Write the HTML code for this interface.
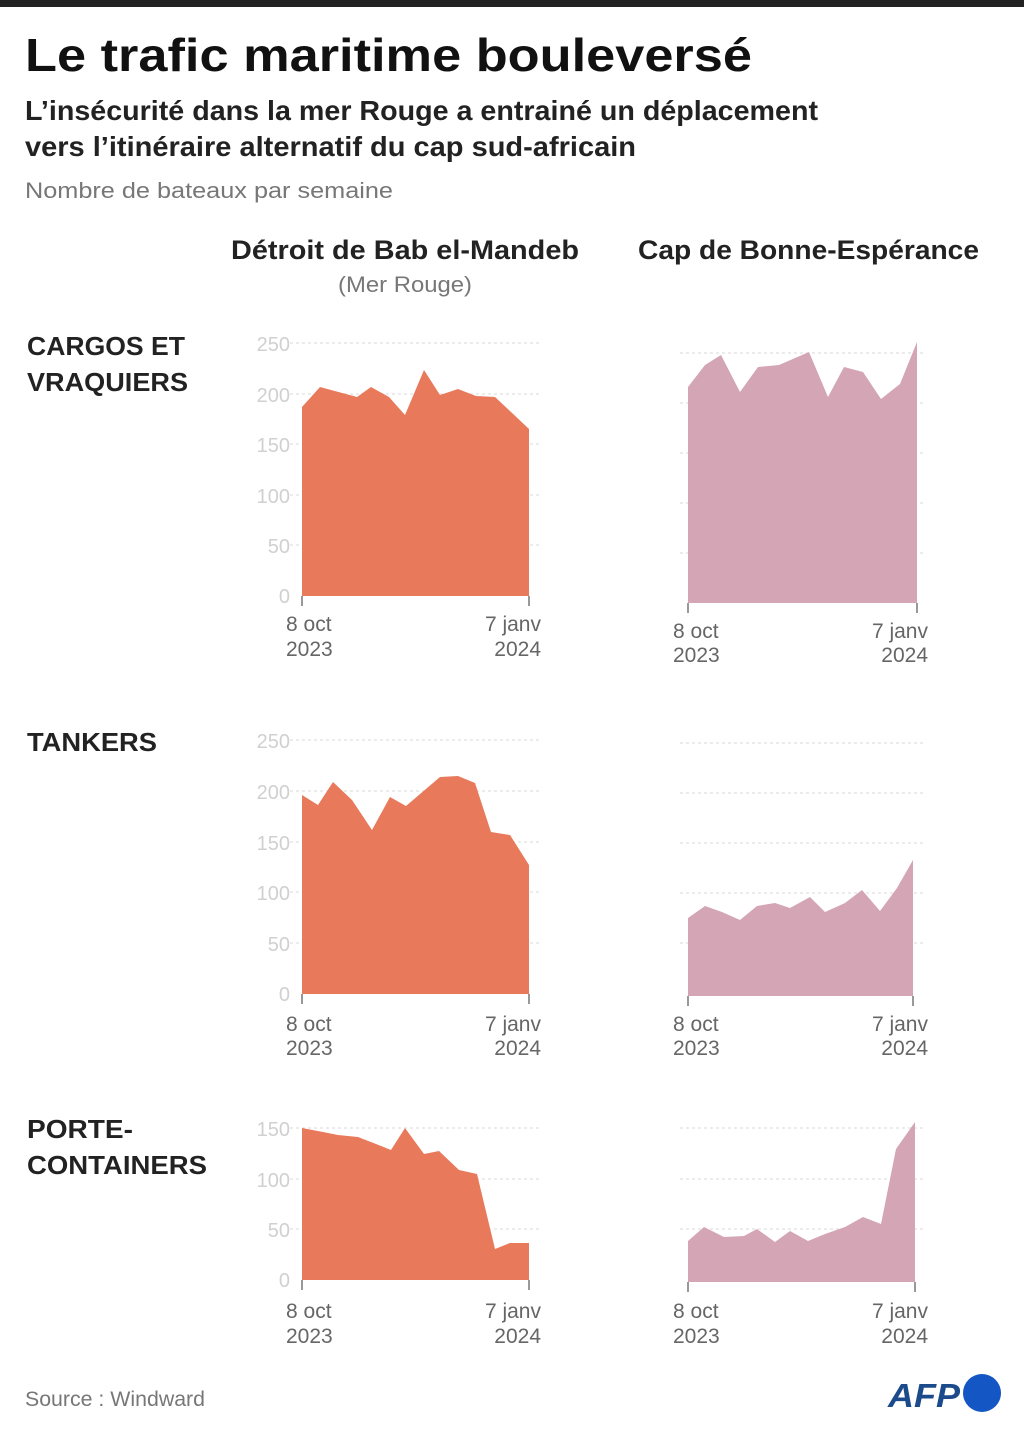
<!DOCTYPE html>
<html><head><meta charset="utf-8"><style>
html,body{margin:0;padding:0;background:#fff;}
svg{display:block;}
text{font-family:"Liberation Sans Narrow","Liberation Sans",sans-serif;}
</style></head><body>
<svg width="1024" height="1432" viewBox="0 0 1024 1432" xmlns="http://www.w3.org/2000/svg">
<rect x="0" y="0" width="1024" height="7" fill="#222"/>
<text x="25" y="71" font-size="46" font-weight="bold" fill="#111" textLength="727" lengthAdjust="spacingAndGlyphs">Le trafic maritime bouleversé</text>
<text x="25" y="120" font-size="28" font-weight="bold" fill="#222" textLength="793" lengthAdjust="spacingAndGlyphs">L’insécurité dans la mer Rouge a entrainé un déplacement</text>
<text x="25" y="156" font-size="28" font-weight="bold" fill="#222" textLength="611" lengthAdjust="spacingAndGlyphs">vers l’itinéraire alternatif du cap sud-africain</text>
<text x="25" y="198" font-size="22" fill="#777" textLength="368" lengthAdjust="spacingAndGlyphs">Nombre de bateaux par semaine</text>
<text x="231" y="259" font-size="27" font-weight="bold" fill="#222" textLength="348" lengthAdjust="spacingAndGlyphs">Détroit de Bab el-Mandeb</text>
<text x="338" y="292" font-size="22" fill="#777" textLength="134" lengthAdjust="spacingAndGlyphs">(Mer Rouge)</text>
<text x="638" y="259" font-size="27" font-weight="bold" fill="#222" textLength="341" lengthAdjust="spacingAndGlyphs">Cap de Bonne-Espérance</text>

<g font-size="26" font-weight="bold" fill="#222">
<text x="27" y="355" textLength="158" lengthAdjust="spacingAndGlyphs">CARGOS ET</text>
<text x="27" y="391" textLength="161" lengthAdjust="spacingAndGlyphs">VRAQUIERS</text>
<text x="27" y="751" textLength="130" lengthAdjust="spacingAndGlyphs">TANKERS</text>
<text x="27" y="1138" textLength="106" lengthAdjust="spacingAndGlyphs">PORTE-</text>
<text x="27" y="1174" textLength="180" lengthAdjust="spacingAndGlyphs">CONTAINERS</text>
</g>

<g stroke="#e6e6e6" stroke-width="1.5" stroke-dasharray="3 3">
<line x1="290" x2="540" y1="343" y2="343"/><line x1="290" x2="540" y1="394" y2="394"/><line x1="290" x2="540" y1="444" y2="444"/><line x1="290" x2="540" y1="495" y2="495"/><line x1="290" x2="540" y1="545" y2="545"/>
<line x1="680" x2="925" y1="353" y2="353"/><line x1="680" x2="925" y1="403" y2="403"/><line x1="680" x2="925" y1="453" y2="453"/><line x1="680" x2="925" y1="503" y2="503"/><line x1="680" x2="925" y1="553" y2="553"/>
<line x1="290" x2="540" y1="740" y2="740"/><line x1="290" x2="540" y1="791" y2="791"/><line x1="290" x2="540" y1="842" y2="842"/><line x1="290" x2="540" y1="892" y2="892"/><line x1="290" x2="540" y1="943" y2="943"/>
<line x1="680" x2="925" y1="743" y2="743"/><line x1="680" x2="925" y1="793" y2="793"/><line x1="680" x2="925" y1="843" y2="843"/><line x1="680" x2="925" y1="893" y2="893"/><line x1="680" x2="925" y1="943" y2="943"/>
<line x1="290" x2="540" y1="1128" y2="1128"/><line x1="290" x2="540" y1="1179" y2="1179"/><line x1="290" x2="540" y1="1229" y2="1229"/>
<line x1="680" x2="925" y1="1128" y2="1128"/><line x1="680" x2="925" y1="1179" y2="1179"/><line x1="680" x2="925" y1="1229" y2="1229"/>
</g>

<g font-size="20" fill="#d0d0d0" text-anchor="end">
<text x="290" y="351">250</text><text x="290" y="402">200</text><text x="290" y="452">150</text><text x="290" y="503">100</text><text x="290" y="553">50</text><text x="290" y="603">0</text>
<text x="290" y="748">250</text><text x="290" y="799">200</text><text x="290" y="850">150</text><text x="290" y="900">100</text><text x="290" y="951">50</text><text x="290" y="1001">0</text>
<text x="290" y="1136">150</text><text x="290" y="1187">100</text><text x="290" y="1237">50</text><text x="290" y="1287">0</text>
</g>

<polygon fill="#e8795b" points="302,596 302,407 320,387 357,397 371,387 389,397 405,415 424,370 440,395 458,389 476,396 495,397 511,412 529,429 529,596"/>
<polygon fill="#d4a5b4" points="688,603 688,387 705,365 721,355 740,392 758,367 779,365 809,352 828,397 844,367 863,372 881,399 900,384 917,342 917,603"/>
<polygon fill="#e8795b" points="302,994 302,795 318,805 333,782 352,800 372,830 390,797 406,806 440,777 458,776 475,783 491,832 510,835 529,865 529,994"/>
<polygon fill="#d4a5b4" points="688,996 688,918 705,906 722,912 740,920 757,906 775,903 790,908 810,897 825,912 845,903 862,890 880,911 897,888 913,860 913,996"/>
<polygon fill="#e8795b" points="302,1280 302,1128 323,1132 338,1135 358,1137 376,1144 391,1150 405,1128 424,1154 439,1151 459,1170 477,1174 495,1249 510,1243 520,1243 529,1243 529,1280"/>
<polygon fill="#d4a5b4" points="688,1282 688,1241 704,1227 724,1237 744,1236 757,1229 775,1242 790,1231 808,1241 825,1234 845,1227 863,1217 881,1224 896,1149 915,1122 915,1282"/>

<g stroke="#777" stroke-width="1.5">
<line x1="302" x2="302" y1="596" y2="606"/><line x1="529" x2="529" y1="596" y2="606"/>
<line x1="688" x2="688" y1="603" y2="613"/><line x1="917" x2="917" y1="603" y2="613"/>
<line x1="302" x2="302" y1="994" y2="1004"/><line x1="529" x2="529" y1="994" y2="1004"/>
<line x1="688" x2="688" y1="996" y2="1006"/><line x1="913" x2="913" y1="996" y2="1006"/>
<line x1="302" x2="302" y1="1280" y2="1290"/><line x1="529" x2="529" y1="1280" y2="1290"/>
<line x1="688" x2="688" y1="1282" y2="1292"/><line x1="915" x2="915" y1="1282" y2="1292"/>
</g>

<g font-size="21" fill="#666">
<text x="286" y="631">8 oct</text><text x="286" y="656">2023</text><text x="541" y="631" text-anchor="end">7 janv</text><text x="541" y="656" text-anchor="end">2024</text>
<text x="673" y="638">8 oct</text><text x="673" y="662">2023</text><text x="928" y="638" text-anchor="end">7 janv</text><text x="928" y="662" text-anchor="end">2024</text>
<text x="286" y="1031">8 oct</text><text x="286" y="1055">2023</text><text x="541" y="1031" text-anchor="end">7 janv</text><text x="541" y="1055" text-anchor="end">2024</text>
<text x="673" y="1031">8 oct</text><text x="673" y="1055">2023</text><text x="928" y="1031" text-anchor="end">7 janv</text><text x="928" y="1055" text-anchor="end">2024</text>
<text x="286" y="1318">8 oct</text><text x="286" y="1343">2023</text><text x="541" y="1318" text-anchor="end">7 janv</text><text x="541" y="1343" text-anchor="end">2024</text>
<text x="673" y="1318">8 oct</text><text x="673" y="1343">2023</text><text x="928" y="1318" text-anchor="end">7 janv</text><text x="928" y="1343" text-anchor="end">2024</text>
</g>

<text x="25" y="1406" font-size="21" fill="#777" textLength="180" lengthAdjust="spacingAndGlyphs">Source : Windward</text>
<text x="888" y="1407" font-size="33" font-weight="bold" font-style="italic" fill="#1c4b8c" font-family="Liberation Sans,sans-serif" textLength="72" lengthAdjust="spacingAndGlyphs">AFP</text>
<ellipse cx="982" cy="1393" rx="19" ry="19" fill="#1356c4"/>
</svg>
</body></html>
